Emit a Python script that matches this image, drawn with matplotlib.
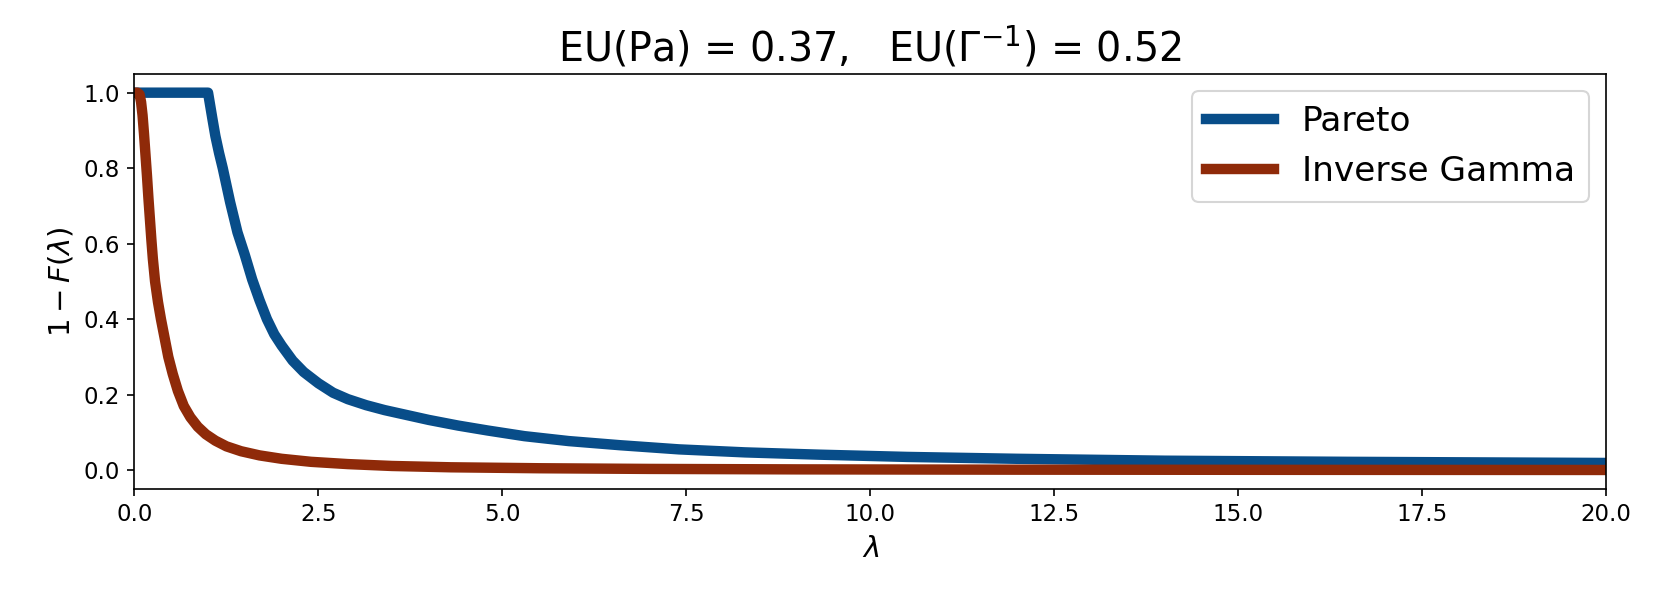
import matplotlib
matplotlib.use("Agg")
import matplotlib.pyplot as plt

# Pareto survival curve
pareto_x = [0.0, 0.5, 1.0, 1.03, 1.06, 1.1, 1.15, 1.2, 1.25, 1.3, 1.35, 1.4, 1.5, 1.6,
            1.7, 1.8, 1.9, 2.0, 2.15, 2.3, 2.5, 2.7, 2.9, 3.15, 3.4, 3.7, 4.0, 4.4,
            4.8, 5.3, 5.9, 6.6, 7.4, 8.3, 9.3, 10.5, 12.0, 14.0, 16.5, 20.0]
pareto_y = [1.0, 1.0, 1.0, 0.965, 0.93, 0.885, 0.84, 0.80, 0.755, 0.71, 0.67, 0.63,
            0.57, 0.505, 0.45, 0.40, 0.36, 0.33, 0.29, 0.26, 0.23, 0.205, 0.188,
            0.172, 0.159, 0.146, 0.133, 0.118, 0.105, 0.090, 0.077, 0.066, 0.055,
            0.047, 0.041, 0.035, 0.030, 0.025, 0.022, 0.019]

# Inverse Gamma survival curve
invgamma_x = [0.0, 0.04, 0.07, 0.09, 0.11, 0.13, 0.15, 0.17, 0.19, 0.21, 0.23, 0.25,
              0.28, 0.32, 0.36, 0.41, 0.46, 0.52, 0.59, 0.67, 0.76, 0.86, 0.97, 1.1,
              1.25, 1.45, 1.7, 2.0, 2.4, 2.9, 3.5, 4.3, 5.5, 7.0, 9.0, 12.0, 16.0, 20.0]
invgamma_y = [1.0, 1.0, 0.995, 0.975, 0.94, 0.89, 0.835, 0.78, 0.72, 0.665, 0.61,
              0.56, 0.50, 0.445, 0.40, 0.35, 0.30, 0.255, 0.21, 0.17, 0.14, 0.115,
              0.095, 0.078, 0.063, 0.050, 0.039, 0.030, 0.022, 0.016, 0.011, 0.0075,
              0.005, 0.0032, 0.002, 0.0012, 0.0007, 0.0004]

series_labels = ["Pareto", "Inverse Gamma"]
title_text = r"EU(Pa) = 0.37,   EU($\Gamma^{-1}$) = 0.52"

fig = plt.figure(figsize=(1660 / 150, 605 / 150), dpi=150)
ax = fig.add_axes([0.081, 0.192, 0.8865, 0.686])

ax.plot(pareto_x, pareto_y, color="#084d89", lw=5, label=series_labels[0])
ax.plot(invgamma_x, invgamma_y, color="#8f2a09", lw=5, label=series_labels[1])

ax.set_xlim(0, 20)
ax.set_title(title_text, fontsize=19)
ax.set_xlabel(r"$\lambda$", fontsize=14)
ax.set_ylabel(r"$1 - F(\lambda)$", fontsize=14)
ax.tick_params(labelsize=11)
ax.legend(fontsize=16.5, loc="upper right")

fig.savefig("out.png", dpi=150)
